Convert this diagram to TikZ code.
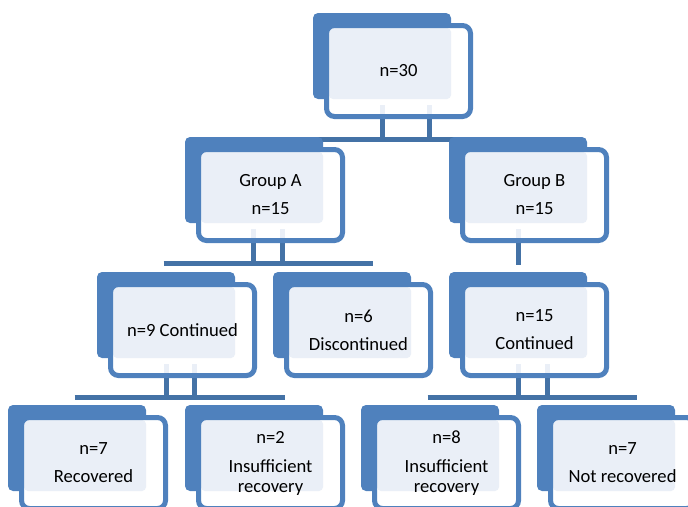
\documentclass[tikz,border=0pt]{standalone}
\usepackage{fontspec}
\setmainfont{Carlito}
\usetikzlibrary{calc,backgrounds}
\definecolor{boxblue}{RGB}{79,129,189}
\definecolor{linkblue}{RGB}{68,114,166}
\definecolor{palefill}{RGB}{234,239,247}
\begin{document}
\begin{tikzpicture}[x=1pt,y=1pt,
 box/.style={rectangle, draw=boxblue, line width=5pt, rounded corners=8pt,
  minimum width=144pt, minimum height=91pt, inner sep=0pt, outer sep=0pt,
  align=center, font=\fontsize{18.6}{20}\selectfont},
 link/.style={draw=linkblue, line width=5pt},
 stub/.style={draw=palefill, line width=5pt}]
 \useasboundingbox (0,0) rectangle (688,-506);
 \node[box] (root) at (398.5,-71) {n=30};
 \node[box] (grpA) at (270.5,-195) {Group A\\[8pt]n=15};
 \node[box] (grpB) at (534.5,-195) {Group B\\[8pt]n=15};
 \node[box] (cont9) at (182.5,-330) {n=9 Continued};
 \node[box] (disc6) at (358.5,-330) {n=6\\[8pt]Discontinued};
 \node[box] (cont15) at (534.5,-330) {n=15\\[8pt]Continued};
 \node[box] (rec7) at (93.5,-463) {n=7\\[8pt]Recovered};
 \node[box] (insuf2) at (270.5,-463) {n=2\\[9pt]Insufficient\\recovery};
 \node[box] (insuf8) at (446.5,-463) {n=8\\[9pt]Insufficient\\recovery};
 \node[box] (notrec7) at (622.5,-463) {n=7\\[8pt]Not recovered};
 \begin{scope}[on background layer]
  \foreach \n/\dx in {root/-16.5, root/30.5, grpA/-17, grpA/12, cont9/-16.5, cont9/11.5, cont15/-16.5, cont15/12.5}
   \draw[link] ($(\n)+(\dx,-48)$) -- ++(0,-20.5);
  \draw[link] ($(grpB)+(-16.5,-48)$) -- ($(cont15)+(-16.5,65)$);
  \draw[link] ($(grpA)+(-19,55.5)$) -- ($(grpB)+(14.5,55.5)$);
  \draw[link] ($(cont9)+(-19,66.5)$) -- ($(disc6)+(14.5,66.5)$);
  \draw[link] ($(rec7)+(-19,66)$) -- ($(insuf2)+(14.5,66)$);
  \draw[link] ($(insuf8)+(-19,65.5)$) -- ($(notrec7)+(14.5,65.5)$);
  \foreach \n in {root,grpA,grpB,cont9,disc6,cont15,rec7,insuf2,insuf8,notrec7} {
   \fill[boxblue, rounded corners=5pt] ($(\n)+(-85.5,58)$) rectangle ($(\n)+(52.5,-28)$);
   \fill[white, rounded corners=8pt] ($(\n)+(-72,45.5)$) rectangle ($(\n)+(72,-45.5)$);
   \fill[palefill, rounded corners=4pt] ($(\n)+(-69.5,43)$) rectangle ($(\n)+(52.5,-28)$);
  }
  \foreach \n/\dx in {root/-16.5, root/30.5, grpA/-17, grpA/12, grpB/-16.5, cont9/-16.5, cont9/11.5, cont15/-16.5, cont15/12.5}
   \draw[stub] ($(\n)+(\dx,-34)$) -- ++(0,-9);
 \end{scope}
\end{tikzpicture}
\end{document}
